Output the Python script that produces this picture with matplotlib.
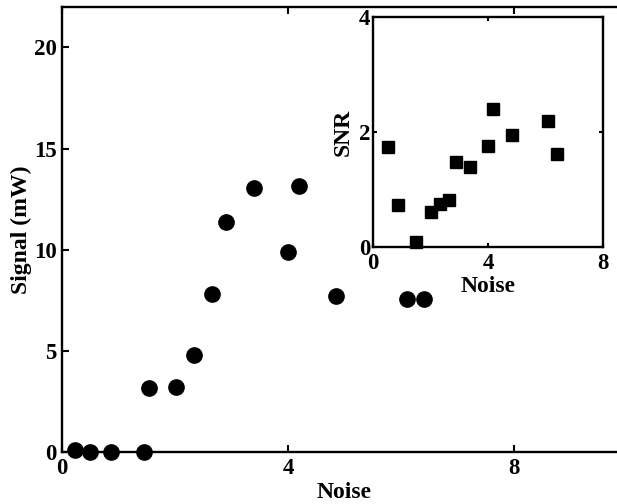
import matplotlib
matplotlib.use("Agg")
import matplotlib.pyplot as plt

# Signal measurements versus noise level
noise = [0.23, 0.50, 0.86, 1.45, 1.54, 2.02, 2.34, 2.66, 2.90, 3.40, 4.00, 4.20, 4.85, 6.10, 6.41]
signal = [0.1, 0.0, 0.0, 0.0, 3.18, 3.22, 4.79, 7.80, 11.36, 13.05, 9.88, 13.17, 7.70, 7.57, 7.57]

# Signal-to-noise ratio for the inset
snr_noise = [0.51, 0.86, 1.48, 2.02, 2.33, 2.65, 2.89, 3.39, 4.00, 4.19, 4.83, 6.09, 6.39]
snr = [1.74, 0.73, 0.09, 0.61, 0.75, 0.81, 1.47, 1.40, 1.76, 2.40, 1.95, 2.20, 1.62]

main_xticks = [0, 4, 8]
main_yticks = [0, 5, 10, 15, 20]
inset_xticks = [0, 4, 8]
inset_yticks = [0, 2, 4]

plt.rcParams['font.family'] = ['Liberation Serif', 'DejaVu Serif']
plt.rcParams['font.weight'] = 'bold'
plt.rcParams['axes.labelweight'] = 'bold'

W, H = 617, 504
fig = plt.figure(figsize=(W / 100, H / 100), dpi=100)

def style(ax, fs, ticklen, pad):
    ax.tick_params(direction='in', top=True, right=True, length=ticklen,
                   width=1.5, labelsize=fs, pad=pad)
    for s in ax.spines.values():
        s.set_linewidth(1.7)
    for lab in ax.get_xticklabels() + ax.get_yticklabels():
        lab.set_fontweight('bold')

# Main axes (extends past the right edge of the figure)
ax = fig.add_axes([62 / W, 1 - 452 / H, 565 / W, 445 / H])
ax.plot(noise, signal, 'o', color='black', markersize=11, clip_on=False, zorder=3)
ax.set_xlim(0, 10)
ax.set_ylim(0, 22)
ax.set_xticks(main_xticks)
ax.set_yticks(main_yticks)
style(ax, 16.5, 5, 4)
ax.set_xlabel('Noise', fontsize=17, fontweight='bold')
ax.set_ylabel('Signal (mW)', fontsize=17, fontweight='bold')
ax.xaxis.set_label_coords(0.5, -0.068)
ax.yaxis.set_label_coords(-0.053, 0.5)

# Inset axes
ins = fig.add_axes([373 / W, 1 - 247 / H, 230 / W, 230 / H])
ins.plot(snr_noise, snr, 's', color='black', markersize=9, clip_on=False, zorder=3)
ins.set_xlim(0, 8)
ins.set_ylim(0, 4)
ins.set_xticks(inset_xticks)
ins.set_yticks(inset_yticks)
style(ins, 16.5, 3, 2)
ins.tick_params(axis='x', pad=4)
ins.set_xlabel('Noise', fontsize=17, fontweight='bold')
ins.set_ylabel('SNR', fontsize=17, fontweight='bold')
ins.xaxis.set_label_coords(0.5, -0.125)
ins.yaxis.set_label_coords(-0.085, 0.5)

fig.savefig('out.png', dpi=100)
